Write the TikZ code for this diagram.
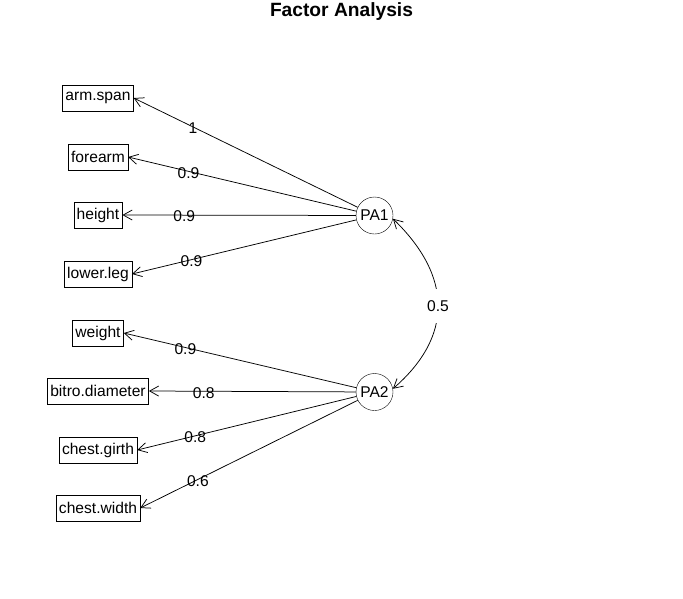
\documentclass[tikz,border=0pt]{standalone}
\usepackage{fontspec}
\setmainfont{Liberation Sans}
\usetikzlibrary{arrows.meta}

\begin{document}
\begin{tikzpicture}[x=1pt, y=-1pt,
    var/.style={draw, font=\fontsize{15.6}{17}\selectfont, inner xsep=3pt, inner ysep=0pt, minimum height=26pt},
    fac/.style={draw, circle, font=\fontsize{15.6}{17}\selectfont, inner sep=0pt, minimum size=37pt},
    load/.style={->, >={Straight Barb[length=9pt,width=10pt]}, line width=0.75pt},
    val/.style={pos=0.735, yshift=-1.5pt, font=\fontsize{15.6}{17}\selectfont, inner sep=0pt}]
            \useasboundingbox (0,0) rectangle (683,598);
            \node[font=\bfseries\fontsize{19.2}{21}\selectfont] (title) at (341.5,12) {Factor Analysis};
            % observed variables
            \node[var] (armspan) at (98,98) {arm.span};
            \node[var] (forearm) at (98,157) {forearm};
            \node[var] (height) at (98,215) {height};
            \node[var] (lowerleg) at (98,274) {lower.leg};
            \node[var] (weight) at (98,333) {weight};
            \node[var] (bitro) at (98,391) {bitro.diameter};
            \node[var] (chestgirth) at (98,450) {chest.girth};
            \node[var] (chestwidth) at (98,508) {chest.width};
            % factors
            \node[fac] (pa1) at (374.5,215.5) {PA1};
            \node[fac] (pa2) at (374.5,392) {PA2};
            % loadings
            \draw[load] (pa1) -- (armspan.east) node[val] {1};
            \draw[load] (pa1) -- (forearm.east) node[val] {0.9};
            \draw[load] (pa1) -- (height.east) node[val] {0.9};
            \draw[load] (pa1) -- (lowerleg.east) node[val] {0.9};
            \draw[load] (pa2) -- (weight.east) node[val] {0.9};
            \draw[load] (pa2) -- (bitro.east) node[val] {0.8};
            \draw[load] (pa2) -- (chestgirth.east) node[val] {0.8};
            \draw[load] (pa2) -- (chestwidth.east) node[val] {0.6};
            % correlation
            \draw[load, <->] (pa1.-10) .. controls +(60,58) and +(60,-52) .. (pa2.10)
                node[midway, fill=white, inner xsep=1pt, inner ysep=11pt, font=\fontsize{15.6}{17}\selectfont] {0.5};
        \end{tikzpicture}
\end{document}
